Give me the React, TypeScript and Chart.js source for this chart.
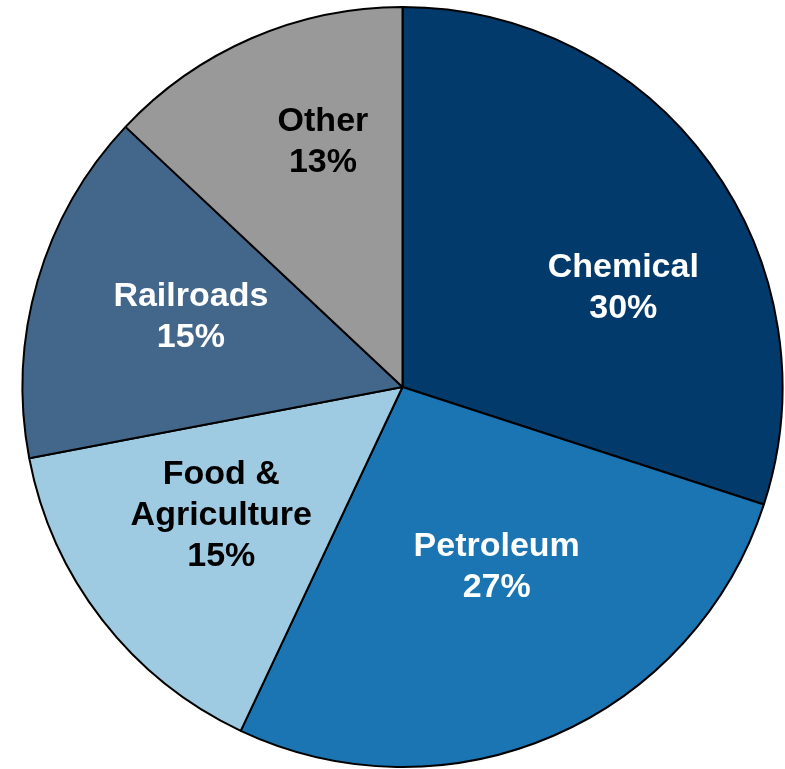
import React, { useEffect, useRef } from "react";
import { Chart, registerables } from "chart.js";

Chart.register(...registerables);

const categories = ["Chemical", "Petroleum", "Food & Agriculture", "Railroads", "Other"];
const labelLines = [["Chemical"], ["Petroleum"], ["Food &", "Agriculture"], ["Railroads"], ["Other"]];
const shares = [30, 27, 15, 15, 13];
const sliceColors = ["#023A6C", "#1A75B2", "#9ECBE2", "#43678B", "#999999"];
const textColors = ["#ffffff", "#ffffff", "#000000", "#ffffff", "#000000"];

// label placement: angular shift from the slice middle (degrees) and fraction of radius
const labelTurn = [11.2, -4.6, 3.1, 2.8, 5.6];
const labelFrac = [0.64, 0.528, 0.58, 0.589, 0.685];

const sliceLabelPlugin = {
  id: "sliceLabels",
  afterDatasetsDraw(chart: any) {
    const ctx = chart.ctx;
    const meta = chart.getDatasetMeta(0);
    const fs = 34;
    const lh = 41;
    const cap = fs * 0.716;
    ctx.save();
    ctx.font = `bold ${fs}px "Liberation Sans", Arial, sans-serif`;
    ctx.textAlign = "center";
    ctx.textBaseline = "alphabetic";
    meta.data.forEach((arc: any, i: number) => {
      const { x, y, startAngle, endAngle, outerRadius } = arc.getProps(
        ["x", "y", "startAngle", "endAngle", "outerRadius"],
        true
      );
      const mid = (startAngle + endAngle) / 2 + (labelTurn[i] * Math.PI) / 180;
      const r = outerRadius * labelFrac[i];
      const cx = x + Math.cos(mid) * r;
      const cy = y + Math.sin(mid) * r;
      const lines = [...labelLines[i], `${shares[i]}%`];
      const n = lines.length;
      const b1 = cy + cap / 2 - ((n - 1) * lh) / 2;
      ctx.fillStyle = textColors[i];
      lines.forEach((t, k) => ctx.fillText(t, cx, b1 + k * lh));
    });
    ctx.restore();
  },
};

export default function App() {
  const ref = useRef<HTMLCanvasElement | null>(null);
  useEffect(() => {
    if (!ref.current) return;
    const chart = new Chart(ref.current, {
      type: "pie",
      data: {
        labels: categories,
        datasets: [
          {
            data: shares,
            backgroundColor: sliceColors,
            borderColor: "#000000",
            borderWidth: 2,
            clip: false as any,
          },
        ],
      },
      options: {
        responsive: false,
        animation: false,
        devicePixelRatio: 1,
        radius: 380,
        layout: { padding: { left: 20, right: 0, top: 5, bottom: 0 } },
        plugins: {
          legend: { display: false },
          tooltip: { enabled: false },
        },
      } as any,
      plugins: [sliceLabelPlugin],
    });
    return () => chart.destroy();
  }, []);
  return (
    <div style={{ position: "fixed", left: 0, top: 0, width: 785, height: 769, background: "#ffffff" }}>
      <canvas ref={ref} width={785} height={769} style={{ width: 785, height: 769 }} />
    </div>
  );
}
